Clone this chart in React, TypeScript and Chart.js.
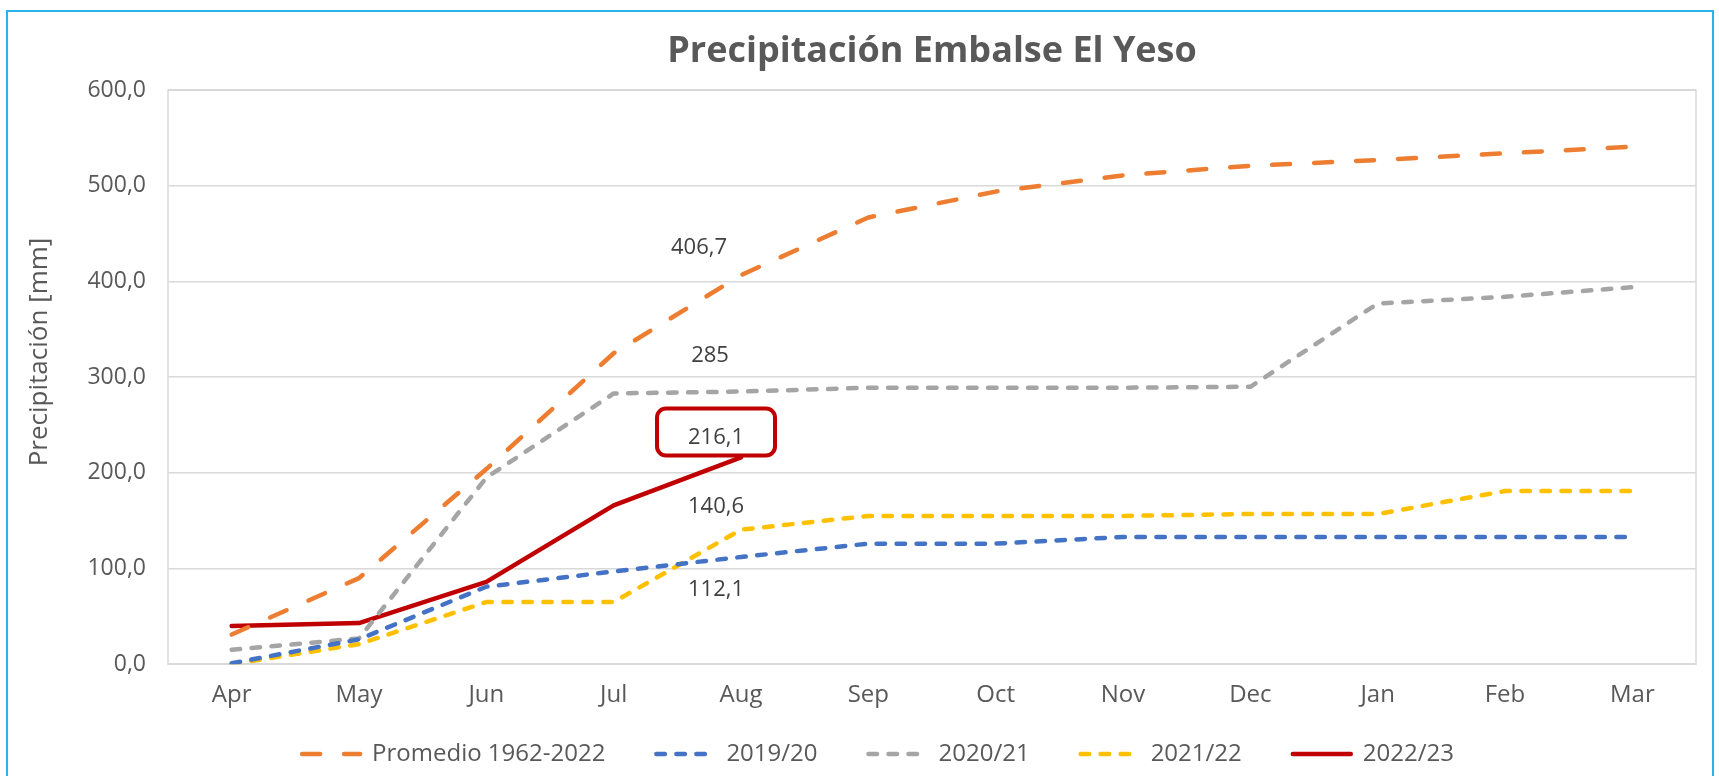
import React, { useEffect, useRef } from "react";
import { Chart, registerables } from "chart.js";

Chart.register(...registerables);

const months = ["Apr", "May", "Jun", "Jul", "Aug", "Sep", "Oct", "Nov", "Dec", "Jan", "Feb", "Mar"];
const promedio = [31, 90, 204, 325, 406.7, 467, 494, 511, 521, 527, 534, 541];
const s2019 = [1, 26, 81, 97, 112.1, 126, 126, 133, 133, 133, 133, 133];
const s2020 = [15, 27, 195, 283, 285, 289, 289, 289, 290, 377, 384, 394];
const s2021 = [0, 21, 65, 65, 140.6, 155, 155, 155, 157, 157, 181, 181];
const s2022 = [40, 43, 86, 166, 216.1, null, null, null, null, null, null, null];
const seriesNames = ["Promedio 1962-2022", "2019/20", "2020/21", "2021/22", "2022/23"];
const yMin = 0;
const yMax = 600;
const yStep = 100;

// which point of which series carries a value label (dataset index, point index)
const labelled = [
  { ds: 0, idx: 4, dx: -42, dy: -27, box: false },
  { ds: 2, idx: 4, dx: -31, dy: -36, box: false },
  { ds: 4, idx: 4, dx: -25, dy: -20, box: true },
  { ds: 3, idx: 4, dx: -25, dy: -23, box: false },
  { ds: 1, idx: 4, dx: -25, dy: 33, box: false },
];

const FONT = "'Open Sans', 'DejaVu Sans', sans-serif";
const LEGEND_OVERLAP = 36;
const fmt = (v: number) => String(v).replace(".", ",");

const decorPlugin = {
  id: "decor",
  beforeLayout(chart: any) {
    const lg = chart.legend;
    if (lg && !lg.__patched) {
      const orig = lg.fit;
      lg.fit = function () {
        orig.call(this);
        this.height -= LEGEND_OVERLAP;
      };
      lg.__patched = true;
    }
  },
  afterLayout(chart: any) {
    const lg = chart.legend;
    if (lg) {
      lg.top -= LEGEND_OVERLAP;
      lg.height += LEGEND_OVERLAP;
    }
  },
  beforeDraw(chart: any) {
    const { ctx } = chart;
    ctx.save();
    ctx.fillStyle = "#ffffff";
    ctx.fillRect(0, 0, chart.width, chart.height);
    ctx.strokeStyle = "#29B3EC";
    ctx.lineWidth = 2;
    ctx.strokeRect(7, 11, chart.width - 13, chart.height + 40);
    ctx.restore();
    // y axis title
    ctx.save();
    ctx.translate(40, 352);
    ctx.rotate(-Math.PI / 2);
    ctx.font = `26px ${FONT}`;
    ctx.fillStyle = "#595959";
    ctx.textAlign = "center";
    ctx.textBaseline = "middle";
    ctx.fillText("Precipitación [mm]", 0, 0);
    ctx.restore();
  },
  beforeDatasetsDraw(chart: any) {
    const { ctx, chartArea } = chart;
    ctx.save();
    ctx.strokeStyle = "#d9d9d9";
    ctx.lineWidth = 1.5;
    ctx.strokeRect(chartArea.left, chartArea.top, chartArea.right - chartArea.left, chartArea.bottom - chartArea.top);
    ctx.restore();
  },
  afterDatasetsDraw(chart: any) {
    const { ctx } = chart;
    ctx.save();
    ctx.font = `22px ${FONT}`;
    ctx.fillStyle = "#404040";
    ctx.textAlign = "center";
    ctx.textBaseline = "middle";
    labelled.forEach((l) => {
      const meta = chart.getDatasetMeta(l.ds);
      const pt = meta.data[l.idx];
      const v = chart.data.datasets[l.ds].data[l.idx];
      if (!pt || v == null) return;
      const x = pt.x + l.dx;
      const y = pt.y + l.dy;
      if (l.box) {
        ctx.save();
        ctx.strokeStyle = "#C00000";
        ctx.lineWidth = 4;
        ctx.beginPath();
        (ctx as any).roundRect(x - 59, y - 29, 118, 47, 9);
        ctx.stroke();
        ctx.restore();
      }
      ctx.fillText(fmt(v), x, y);
    });
    ctx.restore();
  },
};

export default function App() {
  const ref = useRef<HTMLCanvasElement | null>(null);

  useEffect(() => {
    document.body.style.margin = "0";
    const canvas = ref.current;
    if (!canvas) return;
    const line = (label: string, data: (number | null)[], color: string, dash: number[]) => ({
      label,
      data,
      borderColor: color,
      backgroundColor: color,
      borderWidth: 4.5,
      borderDash: dash,
      borderCapStyle: "round",
      borderJoinStyle: "round",
      pointRadius: 0,
      pointHoverRadius: 0,
      fill: false,
      tension: 0,
    });
    const chart = new Chart(canvas, {
      type: "line",
      data: {
        labels: months,
        datasets: [
          line(seriesNames[0], promedio, "#ED7D31", [18, 24]),
          line(seriesNames[1], s2019, "#4472C4", [8.5, 11.5]),
          line(seriesNames[2], s2020, "#A5A5A5", [8.5, 11.5]),
          line(seriesNames[3], s2021, "#FFC000", [8.5, 11.5]),
          line(seriesNames[4], s2022, "#C00000", []),
        ] as any,
      },
      options: {
        animation: false,
        responsive: false,
        maintainAspectRatio: false,
        layout: { padding: { left: 60, right: 23, top: 0, bottom: 0 } },
        plugins: {
          title: {
            display: true,
            fullSize: false,
            text: "Precipitación Embalse El Yeso",
            color: "#595959",
            font: { family: FONT, size: 36, weight: "bold" },
            padding: { top: 30, bottom: 17 },
          },
          legend: {
            position: "bottom",
            labels: {
              usePointStyle: true,
              pointStyle: "line",
              pointStyleWidth: 58,
              color: "#595959",
              font: { family: FONT, size: 24 },
              padding: 51,
              generateLabels: (ch: any) =>
                ch.data.datasets.map((ds: any, i: number) => ({
                  text: ds.label,
                  fillStyle: ds.borderColor,
                  strokeStyle: ds.borderColor,
                  fontColor: "#595959",
                  lineWidth: ds.borderWidth,
                  lineDash: ds.borderDash || [],
                  lineCap: "round",
                  lineJoin: "round",
                  pointStyle: "line",
                  hidden: false,
                  datasetIndex: i,
                })),
            },
          },
          tooltip: { enabled: false },
        },
        scales: {
          x: {
            offset: true,
            grid: { display: false, drawTicks: false, offset: true },
            border: { display: false },
            ticks: { color: "#595959", font: { family: FONT, size: 24 }, padding: 17 },
          },
          y: {
            min: yMin,
            max: yMax,
            afterFit: (scale: any) => {
              scale.width = 108;
            },
            grid: { color: "#d9d9d9", lineWidth: 1.5, drawTicks: false },
            border: { display: false },
            ticks: {
              stepSize: yStep,
              color: "#595959",
              font: { family: FONT, size: 23 },
              padding: 22,
              callback: (v: any) => Number(v).toFixed(1).replace(".", ","),
            },
          },
        },
      } as any,
      plugins: [decorPlugin],
    });
    return () => chart.destroy();
  }, []);

  return (
    <div style={{ width: 1719, height: 776 }}>
      <canvas ref={ref} width={1719} height={776} style={{ display: "block", width: 1719, height: 776 }} />
    </div>
  );
}
